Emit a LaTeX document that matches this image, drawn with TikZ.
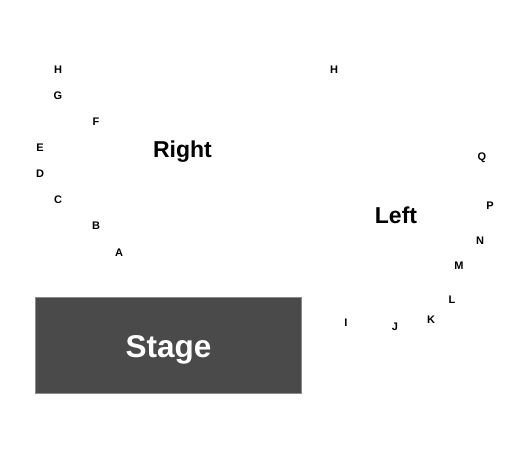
\documentclass[tikz,border=0pt]{standalone}
\usepackage{fontspec}
\setmainfont{Liberation Sans}
\definecolor{stagegray}{HTML}{4A4A4A}
\definecolor{stageedge}{HTML}{8A8A8A}
\begin{document}
\begin{tikzpicture}[x=1pt,y=-1pt,
  row/.style={inner sep=0pt,font=\fontsize{11}{12}\selectfont\bfseries},
  section/.style={inner sep=0pt,anchor=base,font=\fontsize{23}{26}\selectfont\bfseries},
  stagebox/.style={fill=stagegray,draw=stageedge,line width=0.8pt}]
\useasboundingbox[fill=white] (0,0) rectangle (525,450);
% Right section rows
\node[row] (rH) at (58,70) {H};
\node[row] (rG) at (58,95.5) {G};
\node[row] (rF) at (96,121.5) {F};
\node[row] (rE) at (40,147.5) {E};
\node[row] (rD) at (40,173.5) {D};
\node[row] (rC) at (58,200) {C};
\node[row] (rB) at (96,226) {B};
\node[row] (rA) at (119,252.5) {A};
\node[section] (right) at (182.5,157) {Right};
% Left section rows
\node[row] (lH) at (334,70) {H};
\node[row] (lQ) at (482,158) {Q};
\node[row] (lP) at (490,206) {P};
\node[row] (lN) at (480,240.5) {N};
\node[row] (lM) at (459,265.5) {M};
\node[row] (lL) at (452,300) {L};
\node[row] (lK) at (431,319.5) {K};
\node[row] (lJ) at (395,327) {J};
\node[row] (lI) at (346,323) {I};
\node[section] (left) at (396,223) {Left};
% Stage
\draw[stagebox] (35,297) rectangle (301,393);
\node[inner sep=0pt,anchor=base,text=white,font=\fontsize{31.5}{34}\selectfont\bfseries] (stage) at (168.5,357.5) {Stage};
\end{tikzpicture}
\end{document}
